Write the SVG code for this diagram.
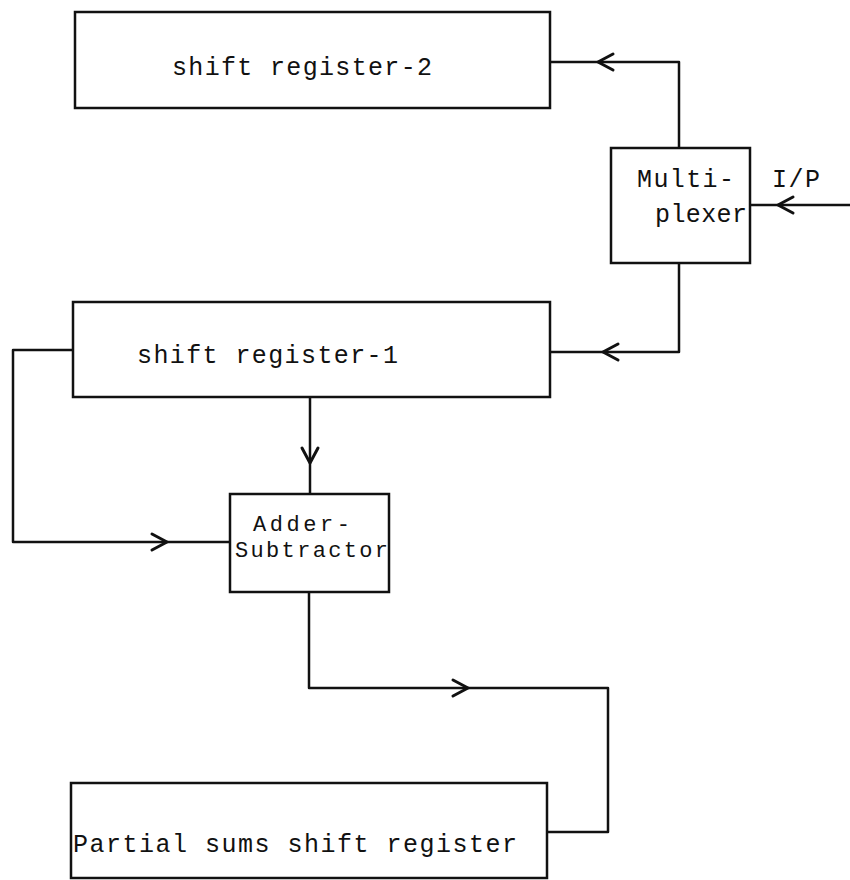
<svg xmlns="http://www.w3.org/2000/svg" xmlns:xlink="http://www.w3.org/1999/xlink" width="850" height="880" viewBox="0 0 850 880">
<style>
  .box { fill: #fff; stroke: #111; stroke-width: 2.5; }
  .wire { fill: none; stroke: #111; stroke-width: 2.5; stroke-linejoin: round; }
  .head { fill: none; stroke: #111; stroke-width: 3; stroke-linecap: round; stroke-linejoin: round; }
  .lbl { font-family: "Liberation Mono", "DejaVu Sans Mono", monospace; font-size: 25px; fill: #111; }
  .sm { font-size: 22px; }
</style>
<defs>
  <path id="chev" class="head" d="M15,-8 L0,0 L15,8"/>
</defs>
<rect x="0" y="0" width="850" height="880" fill="#fff"/>

<g id="sr2">
  <rect class="box" x="75" y="12" width="475" height="96"/>
  <text class="lbl" x="172" y="75" textLength="260" lengthAdjust="spacing">shift register-2</text>
</g>

<g id="mux">
  <rect class="box" x="611" y="148" width="139" height="115"/>
  <text class="lbl" x="637" y="187" textLength="97" lengthAdjust="spacing">Multi-</text>
  <text class="lbl" x="655" y="222" textLength="92" lengthAdjust="spacing">plexer</text>
</g>

<g id="sr1">
  <rect class="box" x="73" y="302" width="477" height="95"/>
  <text class="lbl" x="137" y="363" textLength="261" lengthAdjust="spacing">shift register-1</text>
</g>

<g id="adder">
  <rect class="box" x="230" y="494" width="159" height="98"/>
  <text class="lbl sm" x="253" y="531" textLength="97" lengthAdjust="spacing">Adder-</text>
  <text class="lbl sm" x="235" y="557" textLength="153" lengthAdjust="spacing">Subtractor</text>
</g>

<g id="partial">
  <rect class="box" x="71" y="783" width="476" height="95"/>
  <text class="lbl" x="73" y="852" textLength="444" lengthAdjust="spacing">Partial sums shift register</text>
</g>

<g id="input-label">
  <text class="lbl" x="772" y="187" textLength="48" lengthAdjust="spacing">I/P</text>
</g>

<g id="connectors">
  <path class="wire" d="M550,62 H679 V148"/>
  <use xlink:href="#chev" transform="translate(598,62)"/>
  <path class="wire" d="M850,205 H750"/>
  <use xlink:href="#chev" transform="translate(778,205)"/>
  <path class="wire" d="M679,263 V352 H550"/>
  <use xlink:href="#chev" transform="translate(603,352)"/>
  <path class="wire" d="M73,350 H13 V542 H230"/>
  <use xlink:href="#chev" transform="translate(167,542) rotate(180)"/>
  <path class="wire" d="M310,397 V494"/>
  <use xlink:href="#chev" transform="translate(310,463) rotate(-90)"/>
  <path class="wire" d="M309,592 V688 H608 V832 H547"/>
  <use xlink:href="#chev" transform="translate(468,688) rotate(180)"/>
</g>
</svg>
